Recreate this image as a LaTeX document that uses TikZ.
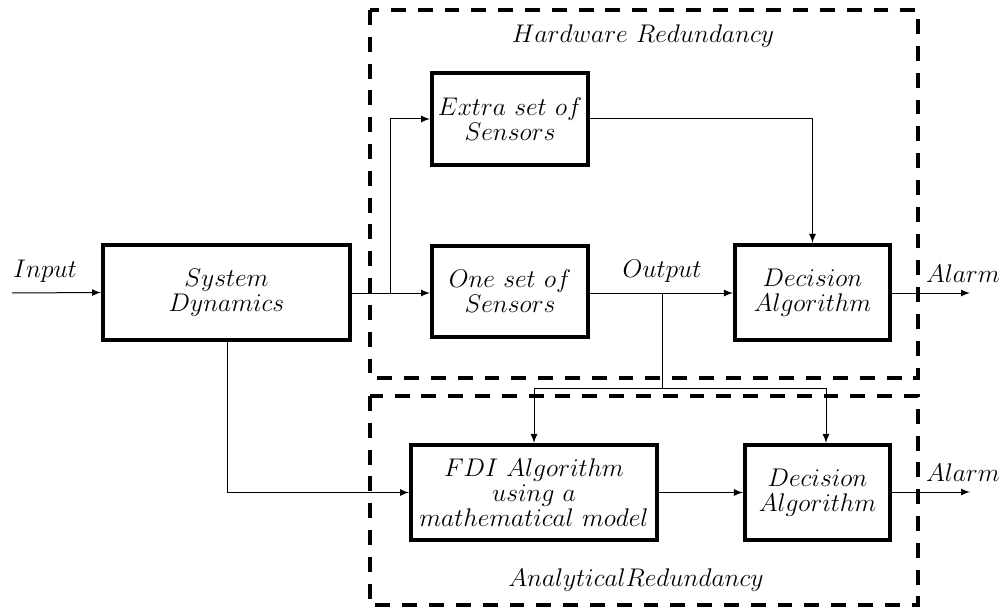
\documentclass[tikz,border=0pt]{standalone}
\usepackage{amsmath}
\usetikzlibrary{arrows,calc}
\begin{document}
\begin{tikzpicture}[x=0.47pt,y=-0.47pt,>=latex]
\tikzset{block/.style={draw,line width=1.88pt,align=center,font=\fontsize{12}{11.75}\selectfont,minimum height=44.7pt,inner sep=1pt}}
\tikzset{region/.style={draw,line width=1.88pt,dash pattern=on 7pt off 5.6pt}}
\tikzset{wire/.style={line width=0.47pt}}
\tikzset{lbl/.style={font=\fontsize{12}{11.75}\selectfont,inner sep=1pt}}
\useasboundingbox (0,0) rectangle (1003,609);
\draw[region] (370,10) rectangle (918,378);
\draw[region] (370,396) rectangle (918,605);
\node[lbl] (hwlbl) at (643,36) {$Hardware\ Redundancy$};
\node[lbl] (anlbl) at (636,580) {$Analytical Redundancy$};
\node[block,minimum width=116.1pt] (sys) at (226.5,292.5) {$System$\\$Dynamics$};
\node[block,minimum width=73.3pt,minimum height=43.2pt] (extra) at (510,119) {$Extra\ set\ of$\\$Sensors$};
\node[block,minimum width=73.3pt,minimum height=43.2pt] (one) at (510,291.5) {$One\ set\ of$\\$Sensors$};
\node[block,minimum width=72.9pt] (dec1) at (812.5,292.5) {$Decision$\\$Algorithm$};
\node[block,minimum width=115.6pt] (fdi) at (534,492.5) {$FDI\ Algorithm$\\$using\ a$\\$mathematical\ model$};
\node[block,minimum width=68.2pt] (dec2) at (817.5,492.5) {$Decision$\\$Algorithm$};
\coordinate (in) at (12,293);
\coordinate (fork) at (390,293);
\coordinate (out) at (662,293);
\coordinate (split) at (662,388);
\coordinate (al1) at (970,293);
\coordinate (al2) at (970,492);
\node[lbl,above] (inlbl) at (45,285) {$Input$};
\node[lbl,above] (outlbl) at (662,285) {$Output$};
\node[lbl,above] (al1lbl) at (963,285) {$Alarm$};
\node[lbl,above] (al2lbl) at (963,484) {$Alarm$};
\draw[wire,->] (in) -- (sys.west);
\draw[wire,->] (sys.east |- fork) -- (one.west |- fork);
\draw[wire,->] (fork) |- (extra.west);
\draw[wire,->] (one.east |- out) -- (dec1.west |- out);
\draw[wire,->] (extra.east) -| (dec1.north);
\draw[wire,->] (dec1.east |- al1) -- (al1);
\draw[wire] (out) -- (split);
\draw[wire,->] (split) -| (fdi.north);
\draw[wire,->] (split) -| ([xshift=4pt]dec2.north);
\draw[wire,->] ([xshift=0.7pt]sys.south) |- (fdi.west);
\draw[wire,->] (fdi.east) -- (dec2.west);
\draw[wire,->] (dec2.east |- al2) -- (al2);
\end{tikzpicture}
\end{document}
